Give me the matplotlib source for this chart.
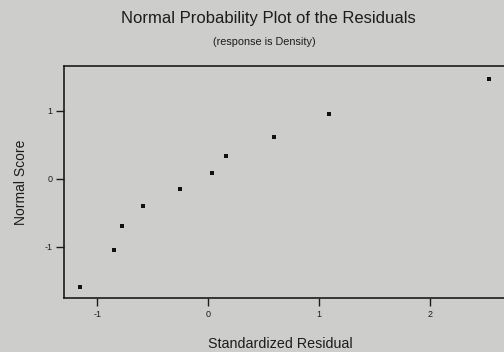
import matplotlib
matplotlib.use("Agg")
import matplotlib.pyplot as plt

residuals = [-1.16, -0.85, -0.78, -0.59, -0.25, 0.03, 0.16, 0.59, 1.09, 2.53]
normal_scores = [-1.59, -1.04, -0.69, -0.40, -0.15, 0.09, 0.34, 0.62, 0.96, 1.47]
xticks = [-1, 0, 1, 2]
yticks = [-1, 0, 1]

bg = "#cdcdcb"
ink = "#1c1c1c"
plt.rcParams['font.family'] = ['Liberation Sans', 'DejaVu Sans']
plt.rcParams['axes.unicode_minus'] = False
fig = plt.figure(figsize=(5.04, 3.52), dpi=100, facecolor=bg)
W, H = 504, 352
ax = fig.add_axes([64 / W, (H - 298) / H, (520 - 64) / W, (298 - 66) / H])
ax.set_facecolor(bg)
ax.scatter(residuals, normal_scores, marker='s', s=6, color='#111111', linewidths=0)
ax.set_xlim(-1.30, 2.81)
ax.set_ylim(-1.75, 1.66)
ax.set_xticks(xticks)
ax.set_yticks(yticks)
ax.tick_params(direction='out', length=6, width=1, labelsize=6.5, color=ink, labelcolor=ink, pad=2.5)
for s in ax.spines.values():
    s.set_color(ink)
    s.set_linewidth(1.2)
ax.set_xlabel("Standardized Residual", fontsize=10.3, color=ink, labelpad=6)
ax.xaxis.set_label_coords((280 - 64) / (520 - 64), -0.17)
ax.set_ylabel("Normal Score", fontsize=10, color=ink, labelpad=12)
fig.text(268 / W, 1 - 18 / H, "Normal Probability Plot of the Residuals", ha='center', va='center', fontsize=12, color=ink)
fig.text(264 / W, 1 - 42 / H, "(response is Density)", ha='center', va='center', fontsize=7.8, color=ink)
fig.savefig("out.png", dpi=100, facecolor=bg)
